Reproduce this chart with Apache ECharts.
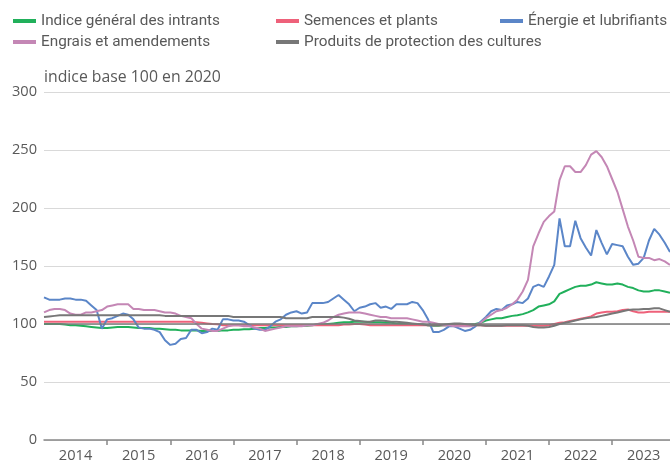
<!DOCTYPE html>
<html>
<head>
<meta charset="utf-8">
<script src="https://cdn.jsdelivr.net/npm/echarts@6/dist/echarts.min.js"></script>
<style>
  html, body { margin: 0; padding: 0; background: #fff; }
  #main { width: 670px; height: 463px; }
</style>
</head>
<body>
<div id="main"></div>
<script>
// années affichées sur l'axe (données mensuelles, janv. 2014 -> déc. 2023)
const years = ["2014", "2015", "2016", "2017", "2018", "2019", "2020", "2021", "2022", "2023"];

const indiceGeneral = [
  100, 100, 100, 100, 99.5, 99, 99, 98.5, 98, 97.5, 97, 96.5,
  96.5, 97, 97.5, 97.5, 97.5, 97, 96.5, 96.5, 96.5, 96, 96, 95.5,
  95, 95, 94.5, 94.5, 94.5, 94.5, 94, 94, 94, 94, 94.5, 94.5,
  95, 95, 95.5, 95.5, 96, 96.5, 96.5, 97, 97, 97.5, 97.5, 98,
  98, 98.5, 98.5, 99, 99.5, 99.5, 100, 100.5, 101, 101.5, 101.5, 102,
  102, 102, 101.5, 101.5, 101.5, 101, 101, 100.5, 100, 100, 100, 99.5,
  99.5, 99, 98.5, 98.5, 99, 99, 99, 99, 99, 99.5, 100, 101,
  103, 104, 105, 105, 106, 107, 107.5, 108.5, 110, 112, 115, 116,
  117, 119.5, 126, 128, 130, 132, 133, 133, 134, 136, 135, 134,
  134, 135, 134, 132, 131, 129, 128, 128, 129, 129, 128, 127
];

const semences = [
  102, 102, 102, 102, 102, 102, 102, 102, 102, 102, 102, 102,
  102, 102, 102, 102, 102, 102, 102, 102, 102, 102, 102, 102,
  102, 102, 102, 102, 102, 101.5, 101, 100.5, 100, 99.8, 99, 99,
  99, 99, 99, 99, 99, 99, 99, 99, 99, 99, 99, 99,
  99, 99, 99, 99, 99, 99, 99, 99, 99, 99.5, 99.5, 100,
  100, 99.5, 99, 99, 99, 99, 99, 99, 99, 99, 99, 99,
  99, 99, 99, 99, 99, 99, 99, 99, 99, 99, 99, 99,
  98.5, 98.5, 98.5, 98.5, 98.5, 98.5, 98.5, 98.5, 98.5, 98.5, 98.5, 98.5,
  99, 100, 101, 101.5, 102.5, 103.5, 104.5, 105.5, 106.5, 109, 110, 110.5,
  110.5, 111, 112, 112.5, 111, 110, 110, 110.5, 110.5, 110.5, 110.5, 110.5
];

const energie = [
  123, 121, 121, 121, 122, 122, 121, 121, 120, 116, 112, 96,
  104, 105, 107, 109, 108, 104, 97, 96, 96, 95, 93, 86,
  82, 83, 87, 88, 95, 95, 92, 93, 96, 95, 104, 104,
  103, 103, 102, 99, 96, 95, 95, 98, 102, 104, 108, 110,
  111, 109, 110, 118, 118, 118, 119, 122, 125, 121, 117, 111,
  114, 115, 117, 118, 114, 115, 113, 117, 117, 117, 119, 118,
  112, 104, 93, 93, 95, 98, 98, 96, 94, 95, 98, 102,
  106, 111, 113, 112, 116, 117, 119, 118, 122, 132, 134, 132,
  141, 151, 191, 167, 167, 189, 174, 166, 159, 181, 170, 160,
  169, 168, 167, 158, 151, 152, 157, 172, 182, 177, 170, 162
];

const engrais = [
  110, 112, 113, 113, 112, 109, 108, 108, 110, 110, 111, 112,
  115, 116, 117, 117, 117, 113, 113, 112, 112, 112, 111, 110,
  110, 109, 107, 106, 105, 100, 96, 95, 94, 94, 96, 98,
  99, 99, 98, 98, 97, 96, 94, 95, 96, 97, 98, 98,
  98, 98, 99, 99, 100, 101, 103, 106, 108, 109, 110, 110,
  110, 109, 108, 107, 106, 106, 105, 105, 105, 105, 104, 103,
  102, 102, 101, 100, 99, 99, 98, 98, 98, 98, 99, 101,
  105, 108, 111, 112, 114, 117, 121, 128, 138, 167, 178, 188,
  193, 197, 224, 236, 236, 231, 231, 237, 246, 249, 244, 236,
  225, 214, 199, 184, 172, 158, 157, 157, 155, 156, 154, 151
];

const produits = [
  106, 106.5, 107, 107.5, 107.5, 107.5, 107.5, 107.5, 107.5, 107.5, 107.5, 107.5,
  107.5, 107.5, 107.5, 107.5, 107.5, 107.5, 107.5, 107.5, 107.5, 107.5, 107.5, 107,
  107, 107, 107, 107, 107, 107, 107, 107, 107, 107, 107, 107,
  106, 106, 106, 106, 106, 106, 106, 106, 106, 106, 105, 105,
  105, 105, 105, 106, 106, 106, 106, 106, 106, 105.5, 104.5, 103,
  102.5, 102, 102, 103, 103, 102.5, 102, 102, 101.5, 101, 100.5, 100,
  99.5, 99, 99, 99, 99.5, 100, 100.5, 100.5, 100, 99.5, 99, 99,
  98.5, 98.5, 98.5, 98.5, 99, 99, 99, 99, 98.5, 97.5, 97, 97,
  97.5, 98.5, 100, 101, 102, 103, 104, 105, 105.5, 106, 107, 108,
  109, 110, 111, 112, 112.5, 112.5, 113, 113, 113.5, 113.5, 112, 110.5
];

const names = [
  "Indice général des intrants",
  "Semences et plants",
  "Énergie et lubrifiants",
  "Engrais et amendements",
  "Produits de protection des cultures"
];
const colors = ["#21b05b", "#ee617a", "#5b86c8", "#c487b5", "#777777"];

let months = [];
years.forEach((y) => {
  for (let m = 1; m <= 12; m++) months.push(y + "-" + (m < 10 ? "0" + m : m));
});

const legendText = { fontFamily: "Roboto", fontSize: 15.3, color: "#595959", lineHeight: 16 };
function makeLegend(left, data) {
  return {
    orient: "vertical",
    left: left,
    top: 13,
    padding: 0,
    itemWidth: 23,
    itemHeight: 4,
    itemGap: 5,
    icon: "rect",
    textStyle: legendText,
    data: data,
  };
}

function makeSeries(i, data) {
  return {
    name: names[i],
    type: "line",
    data: data,
    symbol: "none",
    color: colors[i],
    lineStyle: { width: 2 },
  };
}

let series = [
  makeSeries(0, indiceGeneral),
  makeSeries(1, semences),
  makeSeries(2, energie),
  makeSeries(3, engrais),
  makeSeries(4, produits),
];
series[4].markLine = {
  silent: true,
  symbol: "none",
  label: { show: false },
  lineStyle: { color: "#7a7a7a", type: "solid", width: 1.5 },
  data: [{ yAxis: 100 }],
};

let myChart = echarts.init(document.getElementById("main"));
let option = {
  animation: false,
  legend: [
    makeLegend(13, [names[0], names[3]]),
    makeLegend(276, [names[1], names[4]]),
    makeLegend(500, [names[2]]),
  ],
  grid: { left: 44, right: 0, top: 92, bottom: 23 },
  xAxis: {
    type: "category",
    data: months,
    boundaryGap: false,
    axisLine: { lineStyle: { color: "#888888", width: 1.5 } },
    axisTick: {
      interval: (index) => index % 12 === 0 && index > 0,
      length: 5,
      lineStyle: { color: "#888888", width: 1.5 },
    },
    axisLabel: {
      interval: (index) => index % 12 === 6,
      formatter: (v) => v.slice(0, 4),
      fontFamily: "Open Sans",
      fontSize: 14.6,
      color: "#595959",
      margin: 8,
    },
    splitLine: { show: false },
  },
  yAxis: {
    type: "value",
    min: 0,
    max: 300,
    interval: 50,
    name: "indice base 100 en 2020",
    nameLocation: "end",
    nameGap: 7,
    nameTextStyle: {
      fontFamily: "Open Sans",
      fontSize: 15.8,
      color: "#595959",
      align: "left",
      padding: [0, 0, 0, 0],
    },
    axisLine: { show: false },
    axisTick: { show: false },
    axisLabel: { fontFamily: "Open Sans", fontSize: 14.6, color: "#595959", margin: 7 },
    splitLine: { lineStyle: { color: "#d9d9d9", width: 1 } },
  },
  series: series,
};
option && myChart.setOption(option);
</script>
</body>
</html>
